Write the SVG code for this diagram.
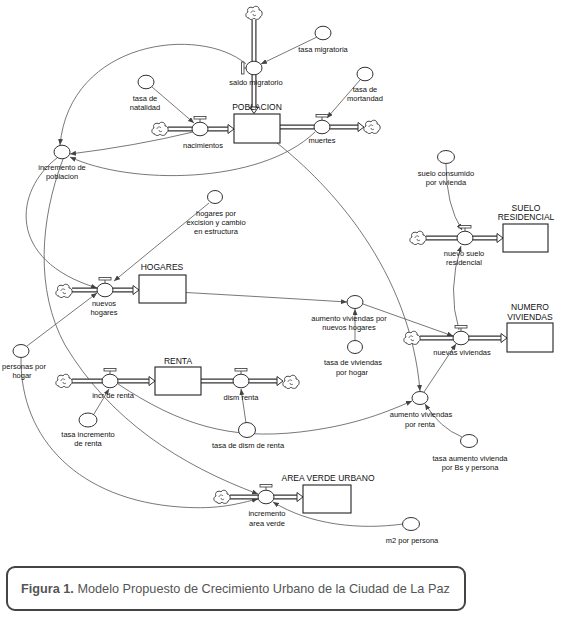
<svg xmlns="http://www.w3.org/2000/svg" width="561" height="618" viewBox="0 0 561 618">
<style>
.t{font-family:"Liberation Sans",Arial,sans-serif;font-size:7.5px;fill:#111;text-anchor:middle}
.ts{font-size:8.5px}
.cv{fill:#fff;stroke:#333;stroke-width:1}
.st{fill:#fff;stroke:#222;stroke-width:1.1}
.po{fill:none;stroke:#333;stroke-width:5}
.pi{fill:none;stroke:#fff;stroke-width:2.6}
.ph{fill:#fff;stroke:#333;stroke-width:1}
.vb{fill:#fff;stroke:#333;stroke-width:0.8}
.cn{fill:none;stroke:#555;stroke-width:0.8;marker-end:url(#ah)}
.cl{fill:#fff;stroke:#333;stroke-width:0.9}
.sw{fill:none;stroke:#333;stroke-width:0.7}
</style>
<defs>
<marker id="ah" markerUnits="userSpaceOnUse" markerWidth="6" markerHeight="5" refX="6" refY="2.5" orient="auto"><path d="M0,0 L6,2.5 L0,5 z" fill="#444"/></marker>
<g id="cloud"><path class="cl" d="M-5,5 C-9,5 -9,0 -6,-1 C-8,-5 -3,-7 -1,-5 C0,-8 6,-7 5,-3 C9,-3 9,3 6,4 C6,7 1,7 0,5 C-1,7 -5,7 -5,5 Z"/><path class="sw" d="M-3,0 c0,-2 3,-3 4,-1 M2,2 c-1,1 -3,1 -3,-1"/></g>
</defs>
<rect width="561" height="618" fill="#fff"/>

<g id="connectors">
<path class="cn" d="M246,64 C200,25 70,40 60,145"/>
<path class="cn" d="M317,37 L261,64"/>
<path class="cn" d="M152,87 L194,123"/>
<path class="cn" d="M360,80 L327,118"/>
<path class="cn" d="M193,132 Q135,146 70,154"/>
<path class="cn" d="M315,132 C260,185 130,185 70,157"/>
<path class="cn" d="M277,143 C330,185 410,270 420,391"/>
<path class="cn" d="M57,158 C15,190 5,260 97,288"/>
<path class="cn" d="M63,159 C40,220 35,290 65,345 C110,420 180,465 258,494"/>
<path class="cn" d="M27,346 L97,293"/>
<path class="cn" d="M21,358 C20,440 80,500 180,507 C220,510 240,503 258,499"/>
<path class="cn" d="M209,203 L114,281"/>
<path class="cn" d="M141,290 Q250,296 347,302"/>
<path class="cn" d="M355,340 L355,309"/>
<path class="cn" d="M363,304 L453,336"/>
<path class="cn" d="M424,392 L456,344"/>
<path class="cn" d="M446,164 Q446,205 462,230"/>
<path class="cn" d="M459,330 Q447,290 461,246"/>
<path class="cn" d="M118,384 C180,425 230,440 300,432 C350,426 380,415 412,401"/>
<path class="cn" d="M94,414 L109,389"/>
<path class="cn" d="M246,423 L241,389"/>
<path class="cn" d="M403,524 C360,530 310,525 273,502"/>
<path class="cn" d="M462,437 Q440,428 425,404"/>
</g>

<g id="pipes">
<path class="po" d="M254,20 V107 M168,129 H228 M280,127 H358 M72,290 H133 M72,381 H149 M201,381 H277 M230,497 H297 M426,238 H497 M420,338 H501"/>
<path class="pi" d="M254,19 V108 M167,129 H229 M279,127 H359 M71,290 H134 M71,381 H150 M200,381 H278 M229,497 H298 M425,238 H498 M419,338 H502"/>
<path class="ph" d="M249.5,107 L258.5,107 L254,113.5 Z M228,124.5 L234,129 L228,133.5 Z M358,122.5 L364,127 L358,131.5 Z M133,285.5 L139,290 L133,294.5 Z M149,376.5 L155,381 L149,385.5 Z M277,376.5 L283,381 L277,385.5 Z M297,492.5 L303,497 L297,501.5 Z M497,233.5 L503,238 L497,242.5 Z M501,333.5 L507,338 L501,342.5 Z"/>
</g>

<g id="cloud-top"><use href="#cloud" x="254" y="13"/></g>
<g id="cloud-nac"><use href="#cloud" x="160" y="129"/></g>
<g id="cloud-muer"><use href="#cloud" x="372" y="127"/></g>
<g id="cloud-hog"><use href="#cloud" x="64" y="291"/></g>
<g id="cloud-inc"><use href="#cloud" x="64" y="381"/></g>
<g id="cloud-dism"><use href="#cloud" x="291" y="382"/></g>
<g id="cloud-av"><use href="#cloud" x="222" y="497"/></g>
<g id="cloud-suelo"><use href="#cloud" x="418" y="238"/></g>
<g id="cloud-viv"><use href="#cloud" x="412" y="338"/></g>

<g id="poblacion"><rect class="st" x="234" y="114" width="46" height="29"/><text class="t ts" x="257" y="110">POBLACION</text></g>
<g id="hogares"><rect class="st" x="139" y="275" width="47" height="28"/><text class="t ts" x="162" y="270">HOGARES</text></g>
<g id="renta"><rect class="st" x="155" y="367" width="46" height="28"/><text class="t ts" x="178" y="364">RENTA</text></g>
<g id="area-verde"><rect class="st" x="303" y="485" width="48" height="28"/><text class="t ts" x="328" y="481">AREA VERDE URBANO</text></g>
<g id="suelo-residencial"><rect class="st" x="503" y="224" width="45" height="28"/><text class="t ts" x="526" y="211">SUELO</text><text class="t ts" x="526" y="220">RESIDENCIAL</text></g>
<g id="numero-viviendas"><rect class="st" x="507" y="323" width="46" height="29"/><text class="t ts" x="530" y="310">NUMERO</text><text class="t ts" x="530" y="320">VIVIENDAS</text></g>

<g id="saldo-migratorio"><line x1="244" y1="68" x2="246" y2="68" stroke="#333" stroke-width="0.8"/><rect class="vb" x="241.5" y="62" width="2.5" height="12"/><ellipse class="cv" cx="254" cy="68" rx="8" ry="6.8"/><text class="t" x="256" y="84.5">saldo migratorio</text></g>
<g id="nacimientos"><line x1="200" y1="122" x2="200" y2="119" stroke="#333" stroke-width="0.8"/><rect class="vb" x="194" y="116.5" width="12" height="2.5"/><ellipse class="cv" cx="200" cy="129" rx="8" ry="6.8"/><text class="t" x="203" y="147.5">nacimientos</text></g>
<g id="muertes"><line x1="322" y1="120" x2="322" y2="117" stroke="#333" stroke-width="0.8"/><rect class="vb" x="316" y="114.5" width="12" height="2.5"/><ellipse class="cv" cx="322" cy="127" rx="8" ry="6.8"/><text class="t" x="322" y="142.5">muertes</text></g>
<g id="nuevos-hogares"><line x1="105" y1="283" x2="105" y2="280" stroke="#333" stroke-width="0.8"/><rect class="vb" x="99" y="277.5" width="12" height="2.5"/><ellipse class="cv" cx="105" cy="290" rx="8" ry="6.8"/><text class="t" x="104" y="305.5">nuevos</text><text class="t" x="104" y="314.5">hogares</text></g>
<g id="incr-de-renta"><line x1="110" y1="374" x2="110" y2="371" stroke="#333" stroke-width="0.8"/><rect class="vb" x="104" y="368.5" width="12" height="2.5"/><ellipse class="cv" cx="110" cy="381" rx="8" ry="6.8"/><text class="t" x="113" y="397.5">incr de renta</text></g>
<g id="dism-renta"><line x1="241" y1="374" x2="241" y2="371" stroke="#333" stroke-width="0.8"/><rect class="vb" x="235" y="368.5" width="12" height="2.5"/><ellipse class="cv" cx="241" cy="381" rx="8" ry="6.8"/><text class="t" x="241" y="399.5">dism renta</text></g>
<g id="incremento-area-verde"><line x1="266" y1="490" x2="266" y2="487" stroke="#333" stroke-width="0.8"/><rect class="vb" x="260" y="484.5" width="12" height="2.5"/><ellipse class="cv" cx="266" cy="497" rx="8" ry="6.8"/><text class="t" x="267" y="515.5">incremento</text><text class="t" x="267" y="525.5">area verde</text></g>
<g id="nuevo-suelo-residencial"><line x1="465" y1="231" x2="465" y2="228" stroke="#333" stroke-width="0.8"/><rect class="vb" x="459" y="225.5" width="12" height="2.5"/><ellipse class="cv" cx="465" cy="238" rx="8" ry="6.8"/><text class="t" x="464" y="255.5">nuevo suelo</text><text class="t" x="464" y="264.5">residencial</text></g>
<g id="nuevas-viviendas"><line x1="461" y1="331" x2="461" y2="328" stroke="#333" stroke-width="0.8"/><rect class="vb" x="455" y="325.5" width="12" height="2.5"/><ellipse class="cv" cx="461" cy="338" rx="8" ry="6.8"/><text class="t" x="462" y="354.5">nuevas viviendas</text></g>

<g id="tasa-migratoria"><ellipse class="cv" cx="323" cy="33" rx="8" ry="6.8"/><text class="t" x="323" y="51.5">tasa migratoria</text></g>
<g id="tasa-de-mortandad"><ellipse class="cv" cx="365" cy="74" rx="8" ry="6.8"/><text class="t" x="365" y="91.5">tasa de</text><text class="t" x="365" y="101">mortandad</text></g>
<g id="tasa-de-natalidad"><ellipse class="cv" cx="146" cy="82" rx="8" ry="6.8"/><text class="t" x="145" y="100.5">tasa de</text><text class="t" x="145" y="109.5">natalidad</text></g>
<g id="incremento-de-poblacion"><ellipse class="cv" cx="62" cy="152" rx="8" ry="6.8"/><text class="t" x="62" y="169.5">incremento de</text><text class="t" x="62" y="178.5">poblacion</text></g>
<g id="hogares-por-excision"><ellipse class="cv" cx="215" cy="197" rx="7.5" ry="6.5"/><text class="t" x="216" y="215.5">hogares por</text><text class="t" x="216" y="224.5">excision y cambio</text><text class="t" x="216" y="233.5">en estructura</text></g>
<g id="personas-por-hogar"><ellipse class="cv" cx="21" cy="351" rx="8" ry="6.5"/><text class="t" x="24" y="368.5">personas por</text><text class="t" x="22" y="377.5">hogar</text></g>
<g id="aumento-viviendas-nuevos-hogares"><ellipse class="cv" cx="355" cy="302" rx="8" ry="6.5"/><text class="t" x="349" y="320.5">aumento viviendas por</text><text class="t" x="349" y="329.5">nuevos hogares</text></g>
<g id="tasa-de-viviendas-por-hogar"><ellipse class="cv" cx="355" cy="347" rx="7.5" ry="6.5"/><text class="t" x="353" y="364.5">tasa de viviendas</text><text class="t" x="352" y="374.5">por hogar</text></g>
<g id="suelo-consumido"><ellipse class="cv" cx="446" cy="157" rx="8.5" ry="6.5"/><text class="t" x="446" y="175.5">suelo consumido</text><text class="t" x="446" y="184.5">por vivienda</text></g>
<g id="aumento-viviendas-renta"><ellipse class="cv" cx="420" cy="398" rx="8" ry="6.5"/><text class="t" x="421" y="416.5">aumento viviendas</text><text class="t" x="420" y="426.5">por renta</text></g>
<g id="tasa-aumento-vivienda"><ellipse class="cv" cx="469" cy="441" rx="8.5" ry="6.5"/><text class="t" x="470" y="460.5">tasa aumento vivienda</text><text class="t" x="470" y="469.5">por Bs y persona</text></g>
<g id="tasa-incremento-renta"><ellipse class="cv" cx="88" cy="420" rx="9" ry="7"/><text class="t" x="88" y="436.5">tasa incremento</text><text class="t" x="88" y="445.5">de renta</text></g>
<g id="tasa-dism-renta"><ellipse class="cv" cx="247" cy="430" rx="8.5" ry="7.5"/><text class="t" x="248" y="447.5">tasa de dism de renta</text></g>
<g id="m2-por-persona"><ellipse class="cv" cx="411" cy="524" rx="8.5" ry="6.5"/><text class="t" x="412" y="542.5">m2 por persona</text></g>

<g id="caption"><rect x="7" y="567" width="458" height="43" rx="8" fill="none" stroke="#444" stroke-width="2"/><text x="21" y="593" font-family="Liberation Sans,Arial,sans-serif" font-size="12.7" fill="#555"><tspan font-weight="bold">Figura 1.</tspan> Modelo Propuesto de Crecimiento Urbano de la Ciudad de La Paz</text></g>
</svg>
